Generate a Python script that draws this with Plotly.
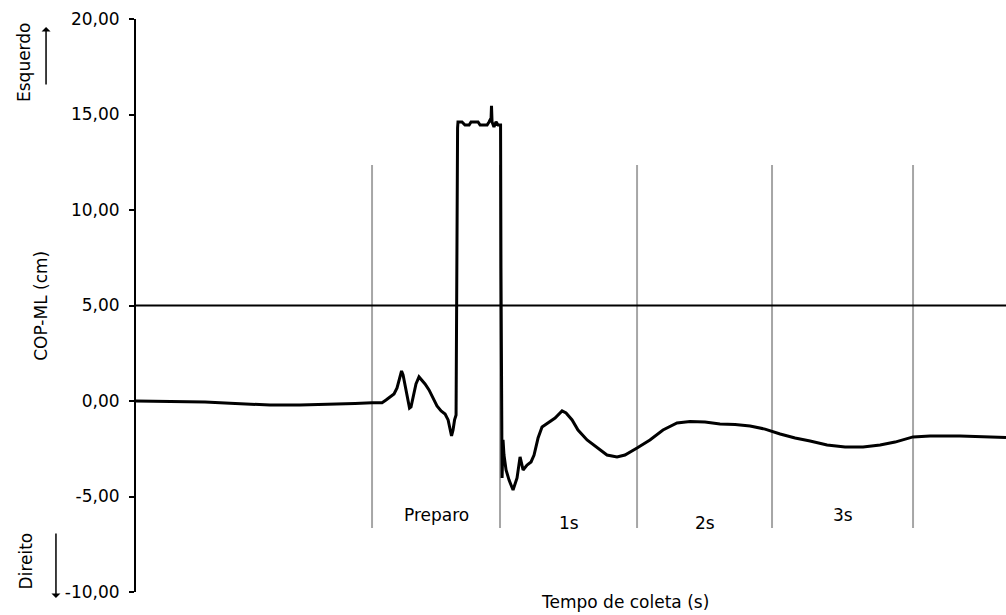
import plotly.graph_objects as go

# Deslocamento medio-lateral do centro de pressão (COP-ML) durante a coleta
tempo_s = [
    0.000, 0.248, 0.503, 0.685, 0.976, 1.194, 1.413, 1.595, 1.719, 1.792,
    1.821, 1.850, 1.879, 1.901, 1.923, 1.934, 1.945, 1.959, 1.974, 1.992,
    2.003, 2.017, 2.039, 2.061, 2.083, 2.105, 2.134, 2.163, 2.192, 2.222,
    2.251, 2.273, 2.287, 2.298, 2.309, 2.320, 2.331, 2.334, 2.338, 2.342,
    2.345, 2.374, 2.396, 2.426, 2.440, 2.491, 2.506, 2.557, 2.571, 2.586,
    2.589, 2.593, 2.607, 2.622, 2.637, 2.655, 2.658, 2.662, 2.666, 2.673,
    2.680, 2.695, 2.717, 2.746, 2.775, 2.797, 2.819, 2.848, 2.877, 2.899,
    2.928, 2.957, 3.001, 3.052, 3.103, 3.132, 3.176, 3.219, 3.285, 3.358,
    3.430, 3.503, 3.561, 3.649, 3.743, 3.838, 3.940, 4.035, 4.144, 4.253,
    4.363, 4.472, 4.581, 4.691, 4.800, 4.909, 5.033, 5.164, 5.295, 5.419,
    5.528, 5.659, 5.783, 6.001, 6.184, 6.336,
]
cop_ml_cm = [
    0.00, -0.04, -0.05, -0.12, -0.21, -0.21, -0.18, -0.13, -0.09, -0.09,
    0.05, 0.21, 0.37, 0.68, 1.31, 1.57, 1.36, 0.84, 0.16, -0.37,
    -0.31, 0.16, 0.89, 1.26, 1.10, 0.89, 0.58, 0.16, -0.26, -0.52,
    -0.68, -0.99, -1.41, -1.83, -1.52, -0.99, -0.73, 6.23, 10.52, 14.29,
    14.61, 14.61, 14.45, 14.45, 14.61, 14.61, 14.45, 14.45, 14.61, 14.82,
    15.45, 14.61, 14.35, 14.61, 14.45, 14.45, 6.96, -0.63, -4.03, -2.04,
    -2.83, -3.61, -4.14, -4.66, -4.03, -2.93, -3.61, -3.35, -3.19, -2.83,
    -1.94, -1.36, -1.15, -0.89, -0.52, -0.63, -0.99, -1.52, -2.04, -2.46,
    -2.83, -2.93, -2.83, -2.46, -2.04, -1.52, -1.15, -1.07, -1.10, -1.20,
    -1.23, -1.31, -1.47, -1.73, -1.94, -2.09, -2.30, -2.41, -2.41, -2.30,
    -2.15, -1.88, -1.83, -1.83, -1.88, -1.91,
]

# Fases da coleta (instantes de transição, em s)
fases_limites = [1.719, 2.651, 3.649, 4.632, 5.659]
fases_nomes = ["Preparo", "1s", "2s", "3s"]
fases_rotulo_y = [-5.97, -6.39, -6.39, -5.97]

y_ticks = [20, 15, 10, 5, 0, -5, -10]
linha_referencia = 5.0
eixo_x_max = 6.336

FONTE = "DejaVu Sans"
TAM = 17

fig = go.Figure()
fig.add_trace(go.Scatter(
    x=tempo_s, y=cop_ml_cm, mode="lines",
    line=dict(color="black", width=3),
    showlegend=False, hoverinfo="skip",
))

shapes = []
# Linhas verticais cinza separando as fases
for t in fases_limites:
    shapes.append(dict(
        type="line", xref="x", yref="y", x0=t, x1=t, y0=-6.65, y1=12.35,
        line=dict(color="#a6a6a6", width=2), layer="below",
    ))
# Linha horizontal de referência
shapes.append(dict(
    type="line", xref="x domain", yref="y", x0=0, x1=1,
    y0=linha_referencia, y1=linha_referencia,
    line=dict(color="black", width=2), layer="above",
))

annotations = []
for i, nome in enumerate(fases_nomes):
    annotations.append(dict(
        x=(fases_limites[i] + fases_limites[i + 1]) / 2, y=fases_rotulo_y[i],
        xref="x", yref="y", text=nome, showarrow=False,
        xanchor="center", yanchor="middle",
        font=dict(family=FONTE, size=TAM, color="black"),
    ))

# Título do eixo x
annotations.append(dict(
    x=0.562, y=-0.0175, xref="paper", yref="paper",
    text="Tempo de coleta (s)", showarrow=False,
    xanchor="center", yanchor="middle",
    font=dict(family=FONTE, size=TAM, color="black"),
))
# Título do eixo y
annotations.append(dict(
    x=-0.110, y=0.5, xref="paper", yref="paper",
    text="COP-ML (cm)", showarrow=False, textangle=-90,
    xanchor="center", yanchor="middle",
    font=dict(family=FONTE, size=TAM, color="black"),
))
# Sentidos: Esquerdo (acima) e Direito (abaixo)
annotations.append(dict(
    x=-0.1287, y=0.925, xref="paper", yref="paper",
    text="Esquerdo", showarrow=False, textangle=-90,
    xanchor="center", yanchor="middle",
    font=dict(family=FONTE, size=TAM, color="black"),
))
annotations.append(dict(
    x=-0.1034, y=0.986, xref="paper", yref="paper",
    text="", showarrow=True, ax=0, ay=59,
    arrowhead=1, arrowsize=1, arrowwidth=1.5, arrowcolor="black",
))
annotations.append(dict(
    x=-0.126, y=0.054, xref="paper", yref="paper",
    text="Direito", showarrow=False, textangle=-90,
    xanchor="center", yanchor="middle",
    font=dict(family=FONTE, size=TAM, color="black"),
))
annotations.append(dict(
    x=-0.0920, y=-0.0105, xref="paper", yref="paper",
    text="", showarrow=True, ax=0, ay=-66,
    arrowhead=1, arrowsize=1, arrowwidth=1.5, arrowcolor="black",
))

fig.update_layout(
    width=1006, height=615,
    margin=dict(l=136, r=0, t=19, b=23),
    paper_bgcolor="white", plot_bgcolor="white",
    shapes=shapes, annotations=annotations,
    font=dict(family=FONTE, size=TAM, color="black"),
    xaxis=dict(
        range=[0, eixo_x_max], showgrid=False, zeroline=False,
        showline=False, showticklabels=False, ticks="",
    ),
    yaxis=dict(
        range=[-10, 20], showgrid=False, zeroline=False,
        showline=True, linecolor="black", linewidth=2,
        ticks="outside", ticklen=5, tickwidth=2, tickcolor="black",
        tickvals=y_ticks,
        ticktext=[f"{v:.2f}".replace(".", ",") for v in y_ticks],
        tickfont=dict(family=FONTE, size=TAM, color="black"),
        ticklabelstandoff=6,
    ),
)

fig.write_html("out.html")
